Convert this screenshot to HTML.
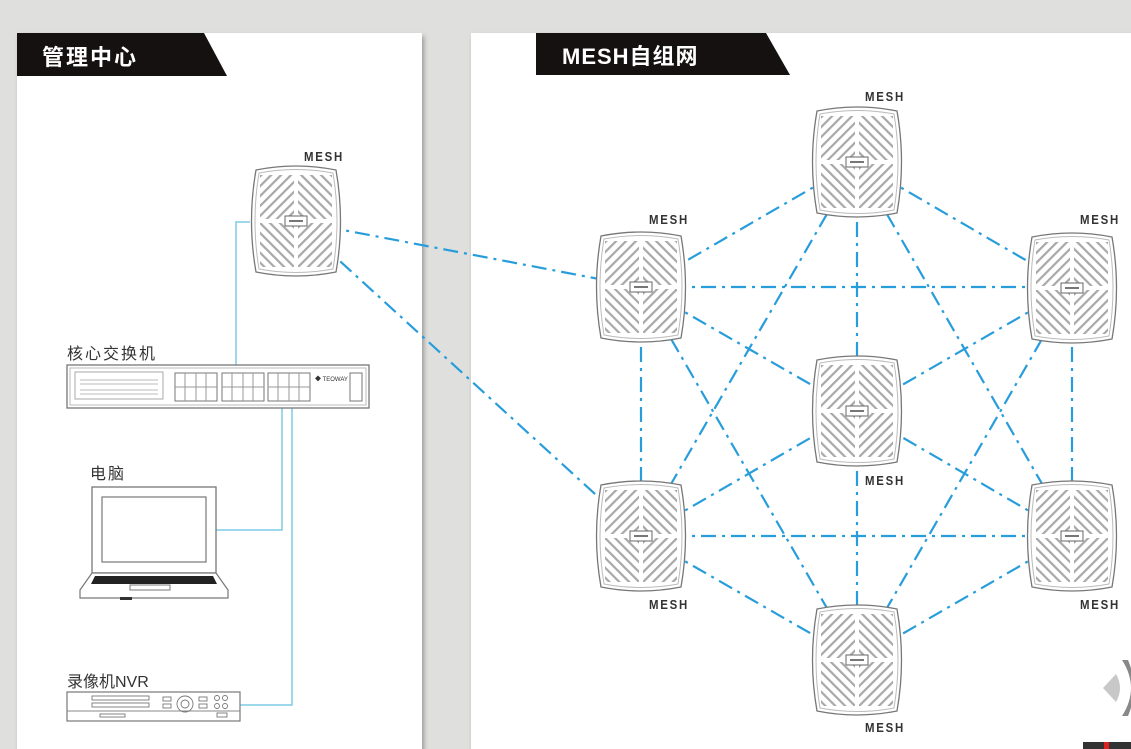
<!DOCTYPE html>
<html><head><meta charset="utf-8">
<style>
html,body{margin:0;padding:0;background:#dfdfdd;}
svg{display:block;}
text{font-family:"Liberation Sans","Noto Sans CJK SC",sans-serif;}
</style></head>
<body>
<svg width="1131" height="749" viewBox="0 0 1131 749" xmlns="http://www.w3.org/2000/svg">
<defs>
  <filter id="sh" x="-5%" y="-5%" width="110%" height="110%"><feGaussianBlur stdDeviation="2.5"/></filter>
  <pattern id="pA" width="7" height="7" patternUnits="userSpaceOnUse" patternTransform="rotate(45)">
    <rect x="0" y="0" width="2.2" height="7" fill="#a8a8a8"/>
  </pattern>
  <pattern id="pB" width="7" height="7" patternUnits="userSpaceOnUse" patternTransform="rotate(-45)">
    <rect x="0" y="0" width="2.2" height="7" fill="#a8a8a8"/>
  </pattern>
  <g id="ap">
    <path d="M6,5 Q46,-3 86,5 Q95,56 86,107 Q46,115 6,107 Q-3,56 6,5 Z" fill="#fff" stroke="#777" stroke-width="1.3"/>
    <path d="M9,8 Q46,1 83,8 Q91,56 83,104 Q46,111 9,104 Q1,56 9,8 Z" fill="none" stroke="#bbb" stroke-width="1"/>
    <rect x="10" y="10" width="34" height="44" fill="url(#pA)"/>
    <rect x="48" y="10" width="34" height="44" fill="url(#pB)"/>
    <rect x="10" y="58" width="34" height="44" fill="url(#pB)"/>
    <rect x="48" y="58" width="34" height="44" fill="url(#pA)"/>
    <line x1="46" y1="9" x2="46" y2="103" stroke="#fff" stroke-width="3"/>
    <line x1="8" y1="56" x2="84" y2="56" stroke="#fff" stroke-width="3"/>
    <rect x="35" y="51" width="22" height="10" fill="#fff" stroke="#666" stroke-width="1"/>
    <rect x="39" y="55" width="14" height="2" fill="#777"/>
  </g>
</defs>

<rect x="19" y="36" width="405" height="720" fill="#999" filter="url(#sh)"/>
<rect x="17" y="33" width="405" height="720" fill="#fff"/>
<rect x="473" y="36" width="670" height="720" fill="#999" filter="url(#sh)"/>
<rect x="471" y="33" width="670" height="720" fill="#fff"/>

<polygon points="17,33 204,33 227,76 17,76" fill="#141110"/>
<text x="42" y="65" font-size="22" font-weight="bold" fill="#fff" letter-spacing="2">管理中心</text>
<polygon points="536,33 766,33 790,75 536,75" fill="#141110"/>
<text x="562" y="64" font-size="22" font-weight="bold" fill="#fff" letter-spacing="1">MESH自组网</text>

<g fill="none" stroke="#7fcbe6" stroke-width="1.5">
  <polyline points="250,222 236,222 236,368"/>
  <polyline points="282,408 282,530 216,530"/>
  <polyline points="292,408 292,705 240,705"/>
</g>

<g stroke="#289ddb" stroke-width="2.2" stroke-dasharray="15,6,3,6" fill="none">
  <line x1="296" y1="221" x2="641" y2="287"/>
  <line x1="296" y1="221" x2="641" y2="536"/>
  <line x1="857" y1="162" x2="641" y2="287"/>
  <line x1="857" y1="162" x2="1072" y2="287"/>
  <line x1="857" y1="162" x2="857" y2="411"/>
  <line x1="857" y1="162" x2="641" y2="536"/>
  <line x1="857" y1="162" x2="1072" y2="536"/>
  <line x1="641" y1="287" x2="1072" y2="287"/>
  <line x1="641" y1="287" x2="641" y2="536"/>
  <line x1="641" y1="287" x2="857" y2="411"/>
  <line x1="641" y1="287" x2="857" y2="660"/>
  <line x1="1072" y1="287" x2="1072" y2="536"/>
  <line x1="1072" y1="287" x2="857" y2="411"/>
  <line x1="1072" y1="287" x2="857" y2="660"/>
  <line x1="641" y1="536" x2="857" y2="411"/>
  <line x1="641" y1="536" x2="1072" y2="536"/>
  <line x1="641" y1="536" x2="857" y2="660"/>
  <line x1="1072" y1="536" x2="857" y2="411"/>
  <line x1="1072" y1="536" x2="857" y2="660"/>
  <line x1="857" y1="411" x2="857" y2="660"/>
</g>

<use href="#ap" x="250" y="165"/>
<use href="#ap" x="811" y="106"/>
<use href="#ap" x="595" y="231"/>
<use href="#ap" x="1026" y="232"/>
<use href="#ap" x="811" y="355"/>
<use href="#ap" x="595" y="480"/>
<use href="#ap" x="1026" y="480"/>
<use href="#ap" x="811" y="604"/>

<g font-size="13" font-weight="bold" fill="#333" letter-spacing="2" transform="scale(1,1)">
  <text x="304" y="161" textLength="40" lengthAdjust="spacingAndGlyphs">MESH</text>
  <text x="865" y="101" textLength="40" lengthAdjust="spacingAndGlyphs">MESH</text>
  <text x="649" y="224" textLength="40" lengthAdjust="spacingAndGlyphs">MESH</text>
  <text x="1080" y="224" textLength="40" lengthAdjust="spacingAndGlyphs">MESH</text>
  <text x="865" y="485" textLength="40" lengthAdjust="spacingAndGlyphs">MESH</text>
  <text x="649" y="609" textLength="40" lengthAdjust="spacingAndGlyphs">MESH</text>
  <text x="1080" y="609" textLength="40" lengthAdjust="spacingAndGlyphs">MESH</text>
  <text x="865" y="732" textLength="40" lengthAdjust="spacingAndGlyphs">MESH</text>
</g>

<text x="67" y="359" font-size="16" fill="#333" letter-spacing="2">核心交换机</text>
<rect x="67" y="365" width="302" height="43" fill="#fff" stroke="#777" stroke-width="1.3"/>
<rect x="70" y="368" width="296" height="37" fill="none" stroke="#bbb" stroke-width="1"/>
<rect x="75" y="372" width="88" height="27" fill="#fff" stroke="#aaa"/>
<g stroke="#bbb" stroke-width="1"><line x1="80" y1="380" x2="158" y2="380"/><line x1="80" y1="384" x2="158" y2="384"/><line x1="80" y1="390" x2="158" y2="390"/><line x1="80" y1="394" x2="158" y2="394"/></g>
<g fill="#fff" stroke="#777" stroke-width="1">
  <rect x="175" y="373" width="42" height="28"/><rect x="222" y="373" width="42" height="28"/><rect x="268" y="373" width="42" height="28"/>
  <rect x="350" y="373" width="12" height="28"/>
</g>
<g stroke="#999" stroke-width="1">
  <line x1="175" y1="387" x2="217" y2="387"/><line x1="222" y1="387" x2="264" y2="387"/><line x1="268" y1="387" x2="310" y2="387"/>
  <line x1="185" y1="373" x2="185" y2="401"/><line x1="196" y1="373" x2="196" y2="401"/><line x1="206" y1="373" x2="206" y2="401"/>
  <line x1="232" y1="373" x2="232" y2="401"/><line x1="243" y1="373" x2="243" y2="401"/><line x1="253" y1="373" x2="253" y2="401"/>
  <line x1="278" y1="373" x2="278" y2="401"/><line x1="289" y1="373" x2="289" y2="401"/><line x1="299" y1="373" x2="299" y2="401"/>
</g>
<text x="315" y="381" font-size="6" fill="#333">◆ TEOWAY</text>

<text x="90" y="479" font-size="16" fill="#333" letter-spacing="2">电脑</text>
<rect x="92" y="487" width="124" height="86" fill="#fff" stroke="#777" stroke-width="1.3"/>
<rect x="102" y="497" width="104" height="65" fill="#fff" stroke="#777" stroke-width="1.2"/>
<path d="M92,573 L216,573 L228,590 L228,598 L80,598 L80,590 Z" fill="#fff" stroke="#777" stroke-width="1.2"/>
<polygon points="95,576 213,576 217,584 91,584" fill="#222"/>
<rect x="130" y="585" width="40" height="5" fill="#fff" stroke="#777"/>
<rect x="120" y="597" width="12" height="3" fill="#333"/>

<text x="67" y="687" font-size="16" fill="#333">录像机NVR</text>
<rect x="67" y="692" width="173" height="29" fill="#fff" stroke="#777" stroke-width="1.2"/>
<line x1="67" y1="711" x2="240" y2="711" stroke="#888"/>
<g fill="none" stroke="#777" stroke-width="0.9">
  <rect x="92" y="696" width="57" height="4"/><rect x="92" y="703" width="57" height="4"/>
  <rect x="163" y="697" width="8" height="4"/><rect x="163" y="704" width="8" height="4"/>
  <circle cx="185" cy="704" r="8"/><circle cx="185" cy="704" r="4"/>
  <rect x="199" y="697" width="8" height="4"/><rect x="199" y="704" width="8" height="4"/>
  <circle cx="217" cy="698" r="2.5"/><circle cx="225" cy="698" r="2.5"/><circle cx="217" cy="706" r="2.5"/><circle cx="225" cy="706" r="2.5"/>
  <rect x="100" y="714" width="25" height="3"/><rect x="217" y="713" width="10" height="4"/>
</g>

<path d="M1103,688 L1116,674 Q1124,688 1116,702 Z" fill="#c8c8c8"/>
<path d="M1122,660 Q1140,688 1122,716 L1128,716 Q1140,688 1128,660 Z" fill="#888"/>
<rect x="1083" y="742" width="48" height="7" fill="#333"/>
<rect x="1104" y="742" width="5" height="7" fill="#d22"/>
</svg>
</body></html>
